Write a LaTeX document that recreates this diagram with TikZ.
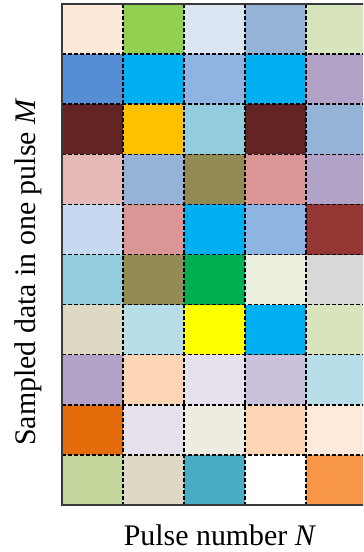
\documentclass[tikz,border=0pt]{standalone}
\usepackage{fontspec}
\setmainfont{Liberation Serif}
\usepackage{xcolor}
\usetikzlibrary{positioning}
\definecolor{FrameGray}{HTML}{3A3A3A}
\tikzset{
  cell/.style={draw=none, minimum width=61bp, minimum height=50.1bp, inner sep=0pt, outer sep=0pt, anchor=north west},
  gridline/.style={draw=black, line width=1.4bp, dash pattern=on 4bp off 2bp},
  frame/.style={draw=FrameGray, line width=1.6bp},
  axislabel/.style={font=\fontsize{30}{35}\selectfont, inner sep=0pt}
}

\begin{document}
\begin{tikzpicture}[x=1bp, y=-1bp]
\useasboundingbox (0,0) rectangle (363,552);
\clip (0,0) rectangle (363,552);
% cells, one row of hex colours per line
\foreach \row [count=\r] in {
  {FDE9D9,92D050,DCE6F2,95B3D7,D7E4BD},
  {558ED5,00B0F0,8EB4E3,00B0F0,B3A2C7},
  {632523,FFC000,93CDDD,632523,95B3D7},
  {E6B9B8,95B3D7,948A54,D99694,B3A2C7},
  {C6D9F1,D99694,00B0F0,8EB4E3,953735},
  {93CDDD,948A54,00B050,EBF1DE,D9D9D9},
  {DDD9C3,B7DEE8,FFFF00,00B0F0,D7E4BD},
  {B3A2C7,FCD5B5,E6E0EC,CCC1DA,B7DEE8},
  {E46C0A,E6E0EC,EEECE1,FCD5B5,FDEADA},
  {C3D69B,DDD9C3,4BACC6,FFFFFF,F79646}} {
  \foreach \hex [count=\c] in \row {
    \definecolor{cellfill}{HTML}{\hex}
    \node[cell, fill=cellfill] (c-\r-\c) at ({62+61*(\c-1)}, {4+50.1*(\r-1)}) {};
  }
}
% dashed grid
\foreach \c in {2,...,5}
  \draw[gridline] (c-1-\c.north west) -- (c-10-\c.south west);
\draw[gridline] (c-1-5.north east) -- (c-10-5.south east);
\foreach \r in {2,...,10}
  \draw[gridline] (c-\r-1.north west) -- (c-\r-5.north east);
% outer frame
\draw[frame] (c-1-5.north east) -- (c-1-1.north west) -- (c-10-1.south west) -- (c-10-5.south east);
% axis labels
\node[axislabel] (xlab) at (220,535) {Pulse number \textit{N}};
\node[axislabel, rotate=90] (ylab) at (28,272) {Sampled data in one pulse \textit{M}};
\end{tikzpicture}
\end{document}
